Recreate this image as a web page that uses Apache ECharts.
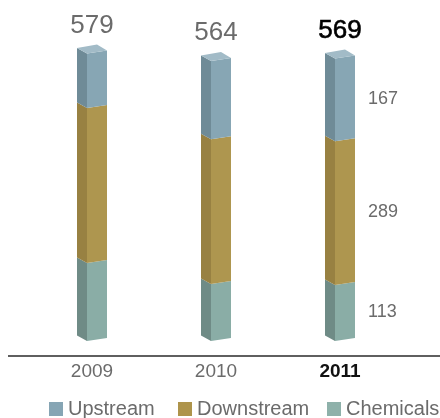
<!DOCTYPE html>
<html>
<head>
<meta charset="utf-8">
<script src="https://cdn.jsdelivr.net/npm/echarts@6/dist/echarts.min.js"></script>
<style>
  html, body { margin: 0; padding: 0; background: #fff; }
  #chart { width: 440px; height: 418px; }
</style>
</head>
<body>
<div id="chart"></div>
<script>
// Capital by segment, per year
const years = ['2009', '2010', '2011'];
const upstream = [110, 158, 167];
const downstream = [312, 291, 289];
const chemicals = [157, 115, 113];
const totals = [579, 564, 569];
const segments = ['Upstream', 'Downstream', 'Chemicals'];
const highlightYear = 2; // 2011 is emphasised and gets segment labels

const FONT = '"Liberation Sans", Arial, Helvetica, sans-serif';

// face colours: [front, side, top]
const palette = {
  Upstream:   ['#87a6b4', '#6f8b97', '#a2bbc7'],
  Downstream: ['#ae964f', '#988142', '#c4ad6a'],
  Chemicals:  ['#8aada6', '#6f8b86', '#a8c6bf']
};
const legendColors = { Upstream: '#86a5b4', Downstream: '#ae944b', Chemicals: '#8eb1aa' };
const legendLeft = [49, 178, 327];

// segment ranges built from the arrays (stack bottom-up: chemicals, downstream, upstream)
const chemData = years.map((y, i) => [i, 0, chemicals[i], chemicals[i]]);
const downData = years.map((y, i) => [i, chemicals[i], chemicals[i] + downstream[i], downstream[i]]);
const upData = years.map((y, i) => [i, chemicals[i] + downstream[i], chemicals[i] + downstream[i] + upstream[i], upstream[i]]);

function makeRender(name, isTop) {
  const [front, side, top] = palette[name];
  return function (params, api) {
    const i = api.value(0);
    const pBase = api.coord([i, api.value(1)]);
    const pTop = api.coord([i, api.value(2)]);
    const cx = pBase[0];
    const jx = cx - 5, lx = cx - 15, rx = cx + 15;
    const dl = 5.5, dr = 3;
    const y0 = pBase[1], y1 = pTop[1];
    const children = [
      {
        type: 'polygon',
        shape: { points: [[lx, y1 - dl], [jx, y1], [jx, y0], [lx, y0 - dl]] },
        style: { fill: side }
      },
      {
        type: 'polygon',
        shape: { points: [[jx, y1], [rx, y1 - dr], [rx, y0 - dr], [jx, y0]] },
        style: { fill: front }
      }
    ];
    if (isTop) {
      children.push({
        type: 'polygon',
        shape: { points: [[lx, y1 - dl], [jx, y1], [rx, y1 - dr], [cx + 5, y1 - dl - dr - 0.5]] },
        style: { fill: top }
      });
      const hi = i === highlightYear;
      children.push({
        type: 'text',
        style: {
          text: String(totals[i]),
          x: cx, y: y1 - 28,
          textAlign: 'center', textVerticalAlign: 'middle', verticalAlign: 'middle',
          font: '26px ' + FONT,
          fill: hi ? '#000000' : '#6b6b6b',
          stroke: hi ? '#000000' : null,
          lineWidth: hi ? 0.6 : 0
        }
      });
    }
    if (i === highlightYear) {
      children.push({
        type: 'text',
        style: {
          text: String(api.value(3)),
          x: rx + 13, y: (y0 + y1) / 2 - 1,
          textAlign: 'left', textVerticalAlign: 'middle', verticalAlign: 'middle',
          font: '18px ' + FONT,
          fill: '#6b6b6b'
        }
      });
    }
    return { type: 'group', children: children };
  };
}

const chart = echarts.init(document.getElementById('chart'), null, { renderer: 'canvas' });

chart.setOption({
  animation: false,
  backgroundColor: '#ffffff',
  grid: { left: 30, right: 38, top: 43, bottom: 77 },
  xAxis: {
    type: 'category',
    data: years,
    boundaryGap: true,
    axisLine: { show: false },
    axisTick: { show: false },
    axisLabel: {
      margin: 21,
      fontSize: 19,
      fontFamily: FONT,
      color: '#6b6b6b',
      formatter: v => (v === years[highlightYear] ? '{b|' + v + '}' : v),
      rich: { b: { fontSize: 19, fontFamily: FONT, fontWeight: 'bold', color: '#111111' } }
    }
  },
  yAxis: { type: 'value', min: 0, max: 600, show: false },
  // one legend box per segment so each entry sits at its own spot
  legend: segments.map((s, k) => ({
    left: legendLeft[k],
    top: 399,
    padding: 0,
    icon: 'rect',
    itemWidth: 14,
    itemHeight: 14,
    textStyle: { fontSize: 20, fontFamily: FONT, color: '#6b6b6b' },
    data: [s]
  })),
  graphic: [
    {
      type: 'line',
      shape: { x1: 8, y1: 356, x2: 440, y2: 356 },
      style: { stroke: '#2a2a2a', lineWidth: 1.5 }
    }
  ],
  series: [
    { name: 'Chemicals', type: 'custom', renderItem: makeRender('Chemicals', false), data: chemData,
      itemStyle: { color: legendColors.Chemicals } },
    { name: 'Downstream', type: 'custom', renderItem: makeRender('Downstream', false), data: downData,
      itemStyle: { color: legendColors.Downstream } },
    { name: 'Upstream', type: 'custom', renderItem: makeRender('Upstream', true), data: upData,
      itemStyle: { color: legendColors.Upstream } }
  ]
});
</script>
</body>
</html>
